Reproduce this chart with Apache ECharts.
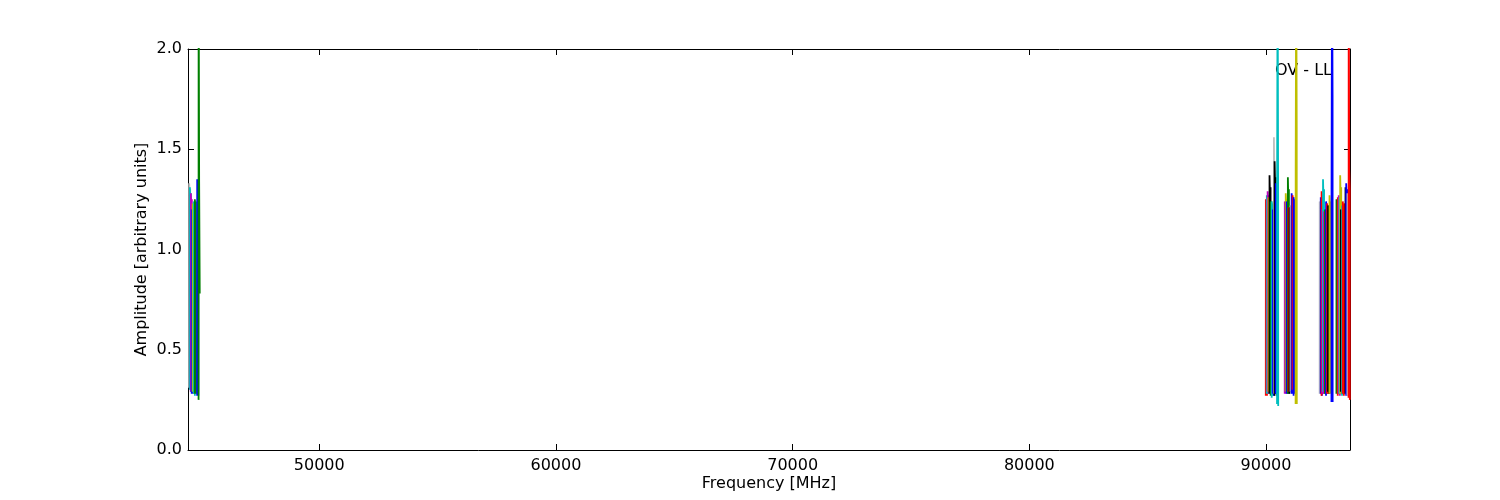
<!DOCTYPE html>
<html>
<head>
<meta charset="utf-8">
<script src="https://cdn.jsdelivr.net/npm/echarts@6/dist/echarts.min.js"></script>
<style>html,body{margin:0;padding:0;background:#fff}#c{width:1500px;height:500px}</style>
</head>
<body>
<div id="c"></div>
<script>
// ---------- DATA ----------
const xMin = 44454, xMax = 93548;
const xTicks = [50000, 60000, 70000, 80000, 90000];
const yTicks = [0.0, 0.5, 1.0, 1.5, 2.0];
const channelOffsets = [0, 3, 25, 47, 50]; // MHz from spw start

const lowStarts = [44500, 44530, 44570, 44610, 44650, 44695, 44740, 44840, 44900];
const lowAmps = [
  [0.31, 1.33, 1.27, 1.30, 0.30],
  [0.30, 1.31, 1.24, 1.28, 0.29],
  [0.29, 1.28, 1.22, 1.25, 0.29],
  [0.28, 1.20, 1.16, 1.19, 0.28],
  [0.29, 1.23, 1.19, 1.21, 0.28],
  [0.28, 1.24, 1.20, 1.23, 0.27],
  [0.28, 1.25, 1.21, 1.24, 0.28],
  [0.27, 1.35, 1.28, 1.33, 0.27],
  [0.25, 2.50, 1.34, 1.34, 0.78]
];
const aStarts = [89990, 90030, 90065, 90100, 90145, 90195, 90240, 90285, 90330, 90360, 90410, 90465];
const aAmps = [
  [0.27, 1.25, 1.21, 1.24, 0.27],
  [0.28, 1.27, 1.22, 1.25, 0.28],
  [0.29, 1.29, 1.23, 1.27, 0.28],
  [0.29, 1.26, 1.21, 1.24, 0.29],
  [0.28, 1.37, 1.25, 1.31, 0.28],
  [0.27, 1.24, 1.20, 1.23, 0.28],
  [0.26, 1.24, 1.19, 1.22, 0.27],
  [0.28, 1.20, 1.10, 1.22, 0.27],
  [0.28, 1.56, 1.30, 1.28, 0.28],
  [0.27, 1.44, 1.30, 1.36, 0.28],
  [0.28, 1.33, 1.25, 1.30, 0.27],
  [0.23, 1.30, 2.50, 1.28, 0.22]
];
const bStarts = [90790, 90830, 90870, 90920, 90950, 90990, 91035, 91080, 91120, 91165, 91250];
const bAmps = [
  [0.28, 1.24, 1.20, 1.22, 0.28],
  [0.29, 1.28, 1.22, 1.25, 0.29],
  [0.28, 1.24, 1.19, 1.22, 0.28],
  [0.28, 1.36, 1.24, 1.30, 0.28],
  [0.29, 1.21, 1.17, 1.19, 0.29],
  [0.28, 1.21, 1.10, 1.19, 0.29],
  [0.29, 1.22, 1.18, 1.20, 0.28],
  [0.28, 1.28, 1.22, 1.26, 0.28],
  [0.30, 1.27, 1.20, 1.23, 0.29],
  [0.27, 1.26, 1.20, 1.25, 0.28],
  [0.23, 1.39, 2.50, 1.60, 0.23]
];
const cStarts = [92265, 92310, 92345, 92375, 92405, 92445, 92490, 92535, 92580, 92620, 92680, 92765];
const cAmps = [
  [0.28, 1.24, 1.20, 1.22, 0.28],
  [0.28, 1.26, 1.20, 1.24, 0.27],
  [0.27, 1.29, 1.22, 1.26, 0.28],
  [0.28, 1.20, 1.16, 1.19, 0.28],
  [0.29, 1.35, 1.24, 1.30, 0.28],
  [0.28, 1.19, 1.15, 1.18, 0.29],
  [0.28, 1.20, 1.16, 1.19, 0.28],
  [0.27, 1.24, 1.19, 1.22, 0.28],
  [0.28, 1.23, 1.18, 1.21, 0.28],
  [0.29, 1.22, 1.12, 1.20, 0.28],
  [0.28, 1.27, 1.20, 1.24, 0.28],
  [0.24, 1.30, 2.50, 1.77, 0.24]
];
const dStarts = [92975, 93030, 93070, 93100, 93130, 93160, 93210, 93240, 93295, 93355, 93385, 93440, 93490];
const dAmps = [
  [0.28, 1.25, 1.20, 1.23, 0.28],
  [0.27, 1.26, 1.21, 1.24, 0.28],
  [0.28, 1.27, 1.22, 1.25, 0.27],
  [0.28, 1.26, 1.21, 1.24, 0.28],
  [0.28, 1.37, 1.25, 1.31, 0.28],
  [0.29, 1.20, 1.15, 1.18, 0.28],
  [0.27, 1.22, 1.18, 1.21, 0.28],
  [0.28, 1.24, 1.19, 1.22, 0.27],
  [0.28, 1.23, 1.18, 1.21, 0.29],
  [0.28, 1.31, 1.22, 1.28, 0.28],
  [0.27, 1.33, 1.25, 1.30, 0.27],
  [0.27, 1.28, 1.20, 1.25, 0.26],
  [0.26, 2.60, 1.40, 1.30, 0.25]
];

// ---------- STYLE ----------
const palette = {b:'#0000ff', g:'#008000', r:'#ff0000', c:'#00bfbf', m:'#bf00bf', y:'#bfbf00', k:'#000000', e:'#bfbfbf'};
const lowColors = ['e','c','m','b','y','c','g','b','g'];
const aColors = ['r','c','m','y','k','g','c','b','e','k','b','c'];
const bColors = ['m','y','b','g','r','k','e','b','r','b','y'];
const cColors = ['e','b','r','m','c','m','g','b','r','k','y','b'];
const dColors = ['g','r','m','c','y','k','c','r','r','k','b','e','r'];

const FONT = '"DejaVu Sans", sans-serif';
const series = [];
function addGroup(starts, amps, colors) {
  starts.forEach((s, i) => {
    const col = palette[colors[i]];
    series.push({
      type: 'line', xAxisIndex: 0, yAxisIndex: 0,
      data: channelOffsets.map((o, j) => [s + o, amps[i][j]]),
      showSymbol: false, symbol: 'none', clip: true, silent: true,
      lineStyle: {width: 1.8, color: col}, itemStyle: {color: col}
    });
  });
}
addGroup(lowStarts, lowAmps, lowColors);
addGroup(aStarts, aAmps, aColors);
addGroup(bStarts, bAmps, bColors);
addGroup(cStarts, cAmps, cColors);
addGroup(dStarts, dAmps, dColors);

const axLine = {show: true, onZero: false, lineStyle: {color: '#000', width: 1}};
const chart = echarts.init(document.getElementById('c'), null, {renderer: 'canvas'});
chart.setOption({
  animation: false,
  backgroundColor: '#fff',
  grid: {left: 188, right: 150, top: 49, bottom: 50},
  xAxis: [{
    type: 'value', min: xMin, max: xMax, position: 'bottom',
    axisLine: axLine,
    axisTick: {show: true, inside: true, length: 6, customValues: xTicks, lineStyle: {color: '#000'}},
    axisLabel: {customValues: xTicks, margin: 8, color: '#000', fontSize: 16, fontFamily: FONT, formatter: v => String(v)},
    splitLine: {show: false},
    name: 'Frequency [MHz]', nameLocation: 'middle', nameGap: 26, nameMoveOverlap: false,
    nameTextStyle: {color: '#000', fontSize: 16, fontFamily: FONT}
  }, {
    type: 'value', min: xMin, max: xMax, position: 'top',
    axisLine: axLine,
    axisTick: {show: true, inside: true, length: 6, customValues: xTicks, lineStyle: {color: '#000'}},
    axisLabel: {show: false}, splitLine: {show: false}
  }],
  yAxis: [{
    type: 'value', min: 0, max: 2, interval: 0.5, position: 'left',
    axisLine: axLine,
    axisTick: {show: true, inside: true, length: 6, lineStyle: {color: '#000'}},
    axisLabel: {margin: 6, color: '#000', fontSize: 16, fontFamily: FONT, formatter: v => v.toFixed(1)},
    splitLine: {show: false},
    name: 'Amplitude [arbitrary units]', nameLocation: 'middle', nameGap: 38, nameMoveOverlap: false,
    nameTextStyle: {color: '#000', fontSize: 16, fontFamily: FONT}
  }, {
    type: 'value', min: 0, max: 2, interval: 0.5, position: 'right',
    axisLine: axLine,
    axisTick: {show: true, inside: true, length: 6, lineStyle: {color: '#000'}},
    axisLabel: {show: false}, splitLine: {show: false}
  }],
  graphic: [{
    type: 'text', left: 1275, top: 63,
    style: {text: 'OV - LL', font: '16px "DejaVu Sans", sans-serif', fill: '#000'}
  }],
  series: series
});
</script>
</body>
</html>
